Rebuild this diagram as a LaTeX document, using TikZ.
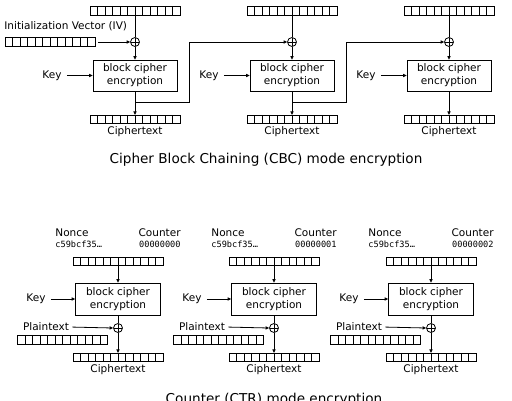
\documentclass[tikz,border=0pt]{standalone}
\usepackage{fontspec}
\setmainfont{DejaVu Sans}
\newfontfamily\codefont{DejaVu Sans Mono}
\usetikzlibrary{arrows.meta}
\begin{document}
\begin{tikzpicture}[x=1pt,y=-1pt,line width=0.8pt,
  regbox/.style={draw, minimum width=90pt, minimum height=8.5pt, inner sep=0pt,
    path picture={\foreach \i in {1,...,11}{\draw[line width=0.7pt] ([xshift=\i*7.5pt]path picture bounding box.south west) -- ([xshift=\i*7.5pt]path picture bounding box.north west);}}},
  cipherbox/.style={draw, minimum width=84pt, minimum height=31pt, inner sep=0pt, align=center, font=\fontsize{10.5}{13}\selectfont},
  xorc/.style={draw, circle, minimum size=9pt, inner sep=0pt,
    path picture={\draw[line width=0.7pt] (path picture bounding box.north) -- (path picture bounding box.south) (path picture bounding box.west) -- (path picture bounding box.east);}},
  lbl/.style={font=\fontsize{10.5}{12}\selectfont, inner sep=0pt},
  codelbl/.style={font=\codefont\fontsize{8.6}{10}\selectfont, inner sep=0pt},
  caption/.style={font=\fontsize{13.6}{16}\selectfont, inner sep=0pt, anchor=base},
  arr/.style={-{Triangle[length=3.5pt,width=3.2pt]}}
]
\useasboundingbox (0,0) rectangle (512,400);

% ---------------- CBC ----------------
\node[lbl, anchor=west] (ivl) at (4,26) {Initialization Vector (IV)};
\node[regbox] (iv) at (50,42) {};

\foreach \n/\cx in {1/135, 2/292, 3/449}{
  \node[regbox] (p\n) at (\cx,11) {};
  \node[xorc] (x\n) at (\cx,42) {};
  \node[cipherbox] (b\n) at (\cx,75.5) {block cipher\\encryption};
  \node[lbl] (k\n) at (\cx-83,75.5) {Key};
  \node[regbox] (c\n) at (\cx,119.5) {};
  \node[lbl] (cl\n) at (\cx,132) {Ciphertext};
  \coordinate (f\n) at (\cx,102);
  \coordinate (t\n) at (\cx+54,42);
  \draw (p\n) -- (x\n);
  \draw[arr] (x\n) -- (b\n);
  \draw[arr, shorten <=5pt] (k\n.east) -- (b\n.west);
  \draw[arr] (b\n) -- (c\n);
}
\draw[arr, shorten <=3pt] (iv) -- (x1);
\draw[arr] (f1) -| (t1) -- (x2);
\draw[arr] (f2) -| (t2) -- (x3);

\node[caption] (cbc) at (266,163) {Cipher Block Chaining (CBC) mode encryption};

% ---------------- CTR ----------------
\foreach \n/\cx/\cnt in {1/118/00000000, 2/274/00000001, 3/431/00000002}{
  \node[lbl, anchor=west] (nl\n) at (\cx-63,233) {Nonce};
  \node[codelbl, anchor=west] (nv\n) at (\cx-63,244) {c59bcf35…};
  \node[lbl, anchor=east] (cn\n) at (\cx+63,233) {Counter};
  \node[codelbl, anchor=east] (cv\n) at (\cx+63,244) {\cnt};
  \node[regbox] (r\n) at (\cx,261.5) {};
  \node[cipherbox, minimum width=85pt, minimum height=32pt] (e\n) at (\cx,299) {block cipher\\encryption};
  \node[lbl] (kk\n) at (\cx-82,299) {Key};
  \node[xorc] (y\n) at (\cx,328) {};
  \node[lbl] (pl\n) at (\cx-72,327) {Plaintext};
  \node[regbox] (pr\n) at (\cx-55.5,340) {};
  \node[regbox] (o\n) at (\cx,357.5) {};
  \node[lbl] (ol\n) at (\cx,370) {Ciphertext};
  \draw[arr] (r\n) -- (e\n);
  \draw[arr, shorten <=5pt] (kk\n.east) -- (e\n.west);
  \draw (e\n) -- (y\n);
  \draw[arr] (y\n) -- (o\n);
  \draw[arr, shorten <=3pt] (pl\n.east) -- (y\n.west);
}

\node[caption] (ctr) at (274,403) {Counter (CTR) mode encryption};
\end{tikzpicture}
\end{document}
